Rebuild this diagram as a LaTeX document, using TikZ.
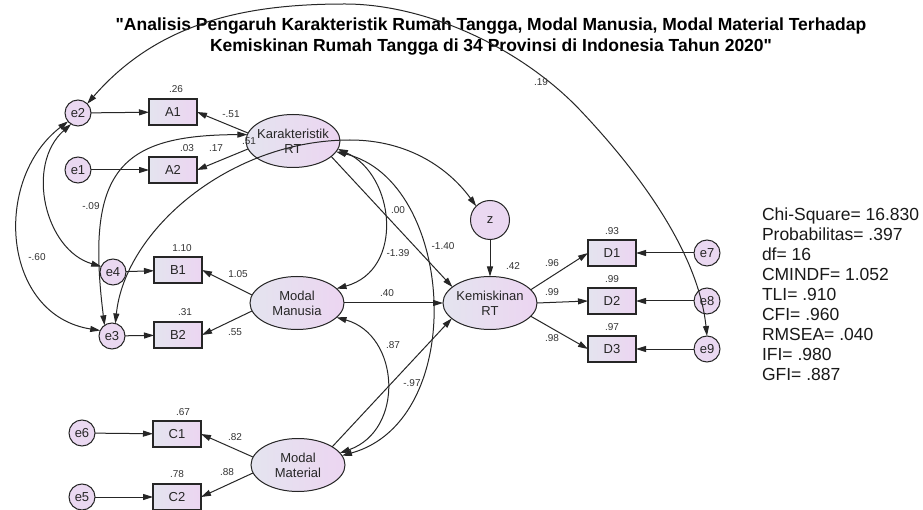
\documentclass[tikz,border=0pt]{standalone}
\usepackage{fontspec}
\setmainfont{Liberation Sans}[Ligatures=TeXOff]
\usetikzlibrary{arrows.meta,shapes.geometric}
\definecolor{nodeL}{HTML}{E4E4EF}
\definecolor{nodeR}{HTML}{ECD5F1}
\definecolor{circ}{HTML}{EAD8F1}
\definecolor{edge}{HTML}{262626}
\begin{document}
\begin{tikzpicture}[x=1pt,y=-1pt,
  >={Triangle[length=10pt,width=6pt]},
  every node/.style={inner sep=0pt,outer sep=0pt,text=black!85},
  obs/.style={draw=edge,line width=1.1pt,rectangle,minimum width=48pt,minimum height=26pt,
    left color=nodeL,right color=nodeR,font=\fontsize{13}{15}\selectfont},
  lat/.style={draw=edge,line width=1pt,ellipse,minimum width=94pt,minimum height=53pt,
    left color=nodeL,right color=nodeR,align=center,font=\fontsize{13}{15}\selectfont},
  err/.style={draw=edge,line width=1pt,circle,minimum size=26pt,fill=circ,
    font=\fontsize{13}{15}\selectfont},
  lbl/.style={font=\fontsize{10}{12}\selectfont,text=black!80},
  arr/.style={draw=edge,line width=1pt,->},
  cov/.style={draw=edge,line width=1pt,<->},
]
\useasboundingbox (0,0) rectangle (923,510);
\fill[white] (0,0) rectangle (923,510);

% title
\node[font=\bfseries\fontsize{17.5}{21}\selectfont,align=center,text=black] (title) at (491,37)
  {"Analisis Pengaruh Karakteristik Rumah Tangga, Modal Manusia, Modal Material Terhadap\\
   Kemiskinan Rumah Tangga di 34 Provinsi di Indonesia Tahun 2020"};

% nodes
\node[err] (e2) at (78,113) {e2};
\node[obs] (A1) at (173,112) {A1};
\node[err] (e1) at (78,170) {e1};
\node[obs] (A2) at (173,170) {A2};
\node[lat] (Kar) at (293,141) {\makebox[0pt]{Karakteristik}\\\makebox[0pt]{RT}};
\node[err,minimum size=39pt] (z) at (490,220) {z};
\node[lat] (Kem) at (490,303) {\makebox[0pt]{Kemiskinan}\\\makebox[0pt]{RT}};
\node[lat] (Man) at (297,303) {\makebox[0pt]{Modal}\\\makebox[0pt]{Manusia}};
\node[err] (e4) at (113,272) {e4};
\node[obs] (B1) at (178,270) {B1};
\node[err] (e3) at (112,336) {e3};
\node[obs] (B2) at (178,335) {B2};
\node[err] (e6) at (82,433) {e6};
\node[obs] (C1) at (177,434) {C1};
\node[err] (e5) at (82,497) {e5};
\node[obs] (C2) at (177,497) {C2};
\node[lat] (Mat) at (298,465) {\makebox[0pt]{Modal}\\\makebox[0pt]{Material}};
\node[obs] (D1) at (612,253) {D1};
\node[obs] (D2) at (612,301) {D2};
\node[obs] (D3) at (612,349) {D3};
\node[err] (e7) at (707,253) {e7};
\node[err] (e8) at (707,301) {e8};
\node[err] (e9) at (707,349) {e9};

% fit statistics
\node[anchor=north west,align=left,font=\fontsize{17.5}{20}\selectfont,text=black!90] (fit) at (762,208)
  {Chi-Square= 16.830\\Probabilitas= .397\\df= 16\\CMINDF= 1.052\\TLI= .910\\CFI= .960\\RMSEA= .040\\IFI= .980\\GFI= .887};

% error arrows
\draw[arr] (e2) -- (A1);
\draw[arr] (e1) -- (A2);
\draw[arr] (e4) -- (B1);
\draw[arr] (e3) -- (B2);
\draw[arr] (e6) -- (C1);
\draw[arr] (e5) -- (C2);
\draw[arr] (e7) -- (D1);
\draw[arr] (e8) -- (D2);
\draw[arr] (e9) -- (D3);

% loadings
\draw[arr] (Kar.170) -- (A1.east);
\draw[arr] (Kar.-170) -- (A2.east);
\draw[arr] (Man.170) -- (B1.east);
\draw[arr] (Man.-170) -- (B2.east);
\draw[arr] (Mat.170) -- (C1.east);
\draw[arr] (Mat.-170) -- (C2.east);
\draw[arr] (Kem.18) -- (D1.west);
\draw[arr] (Kem.east) -- (D2.west);
\draw[arr] (Kem.-18) -- (D3.west);

% structural paths
\draw[arr] (Kar.-22) -- (Kem.157);
\draw[arr] (Man.east) -- (Kem.west);
\draw[arr] (Mat.28) -- (Kem.202);
\draw[arr] (z.south) -- (Kem.north);

% covariances
\coordinate (arctop) at (345,4);
\coordinate (arcmid) at (580,110);
\draw[cov] (e2.45) .. controls (160,20) and (250,4) .. (arctop)
  .. controls (425,4) and (520,47) .. (arcmid)
  .. controls (635,168) and (698,250) .. (e9.north);
\draw[cov] (e2.220) .. controls (-8,180) and (2,315) .. (e3.155);
\draw[cov] (e2.238) .. controls (25,165) and (45,250) .. (e4.155);
\draw[cov] (e3.125) .. controls (85,170) and (120,135) .. (Kar.172);
\coordinate (dtop) at (350,140);
\draw[cov] (e3.75) .. controls (125,230) and (230,140) .. (dtop) .. controls (410,140) and (450,170) .. (z.135);
\draw[cov] (Kar.-10) .. controls (395,175) and (405,270) .. (Man.20);
\draw[cov] (Kar.-14) .. controls (455,180) and (470,420) .. (Mat.12);
\draw[cov] (Man.-20) .. controls (400,335) and (405,430) .. (Mat.16);

% labels
\node[lbl] (l1) at (176,89) {.26};
\node[lbl] (l2) at (187,148) {.03};
\node[lbl] (l3) at (216,148) {.17};
\node[lbl] (l4) at (231,114) {-.51};
\node[lbl] (l5) at (249,141) {.51};
\node[lbl] (l6) at (91,206) {-.09};
\node[lbl] (l7) at (37,257) {-.60};
\node[lbl] (l8) at (182,248) {1.10};
\node[lbl] (l9) at (238,274) {1.05};
\node[lbl] (l10) at (185,312) {.31};
\node[lbl] (l11) at (235,332) {.55};
\node[lbl] (l12) at (183,412) {.67};
\node[lbl] (l13) at (235,437) {.82};
\node[lbl] (l14) at (177,474) {.78};
\node[lbl] (l15) at (227,472) {.88};
\node[lbl] (l16) at (398,210) {.00};
\node[lbl] (l17) at (398,253) {-1.39};
\node[lbl] (l18) at (443,246) {-1.40};
\node[lbl] (l19) at (387,293) {.40};
\node[lbl] (l20) at (393,345) {.87};
\node[lbl] (l21) at (412,383) {-.97};
\node[lbl] (l22) at (513,266) {.42};
\node[lbl] (l23) at (552,263) {.96};
\node[lbl] (l24) at (552,292) {.99};
\node[lbl] (l25) at (552,338) {.98};
\node[lbl] (l26) at (612,231) {.93};
\node[lbl] (l27) at (612,279) {.99};
\node[lbl] (l28) at (612,327) {.97};
\node[lbl] (l29) at (541,82) {.19};
\end{tikzpicture}
\end{document}
